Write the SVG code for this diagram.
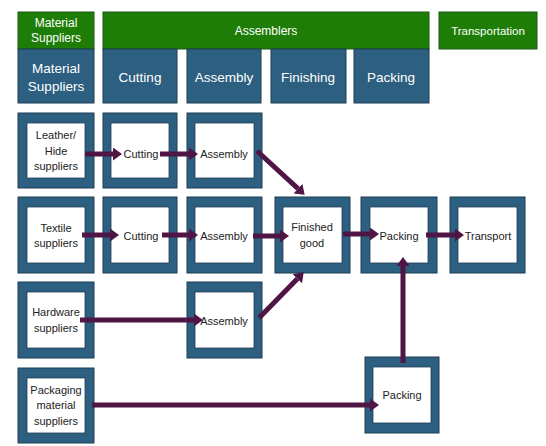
<svg xmlns="http://www.w3.org/2000/svg" width="546" height="446" viewBox="0 0 546 446">
<style>
.g{fill:#1e7d06;stroke:#1b5a12;stroke-width:1}
.b{fill:#2d5f80;stroke:#1f3f55;stroke-width:1}
.w{fill:#ffffff;stroke:#1f3f55;stroke-width:0.8}
.ht{font-family:"Liberation Sans",Arial,sans-serif;fill:#ffffff;text-anchor:middle}
.nt{font-family:"Liberation Sans",Arial,sans-serif;font-size:11px;fill:#222222;text-anchor:middle}
.a{stroke:#4e1545;stroke-width:5;fill:none;marker-end:url(#ah)}
</style>
<defs>
<marker id="ah" markerUnits="userSpaceOnUse" markerWidth="10" markerHeight="13" refX="0" refY="6.5" orient="auto">
<path d="M0,0 L9,6.5 L0,13 Z" fill="#4e1545"/>
</marker>
</defs>
<rect width="546" height="446" fill="#ffffff"/>
<g id="headers">
<rect class="g" x="18" y="12" width="76" height="37"/>
<text class="ht" font-size="12" x="56" y="27">Material</text>
<text class="ht" font-size="12" x="56" y="42">Suppliers</text>
<rect class="g" x="103" y="12" width="326" height="37"/>
<text class="ht" font-size="12" x="266" y="35">Assemblers</text>
<rect class="g" x="439" y="12" width="98" height="37"/>
<text class="ht" font-size="11.5" x="488" y="35">Transportation</text>
<rect class="b" x="18" y="49" width="76" height="54"/>
<text class="ht" font-size="13.5" x="56" y="73">Material</text>
<text class="ht" font-size="13.5" x="56" y="91">Suppliers</text>
<rect class="b" x="103" y="49" width="74" height="54"/>
<text class="ht" font-size="13.5" x="140" y="82">Cutting</text>
<rect class="b" x="187" y="49" width="74" height="54"/>
<text class="ht" font-size="13.5" x="224" y="82">Assembly</text>
<rect class="b" x="271" y="49" width="75" height="54"/>
<text class="ht" font-size="13.5" x="308" y="82">Finishing</text>
<rect class="b" x="354" y="49" width="75" height="54"/>
<text class="ht" font-size="13.5" x="391" y="82">Packing</text>
</g>
<g id="n-leather"><rect class="b" x="18" y="113" width="76" height="75"/><rect class="w" x="27" y="123" width="58" height="55"/>
<text class="nt" x="56" y="139">Leather/</text><text class="nt" x="56" y="155">Hide</text><text class="nt" x="56" y="170">suppliers</text></g>
<g id="n-cut1"><rect class="b" x="103" y="113" width="74" height="75"/><rect class="w" x="111" y="123" width="58" height="55"/>
<text class="nt" x="141" y="158">Cutting</text></g>
<g id="n-asm1"><rect class="b" x="187" y="113" width="75" height="75"/><rect class="w" x="195" y="123" width="59" height="55"/>
<text class="nt" x="224" y="158">Assembly</text></g>
<g id="n-textile"><rect class="b" x="18" y="197" width="76" height="76"/><rect class="w" x="27" y="207" width="58" height="56"/>
<text class="nt" x="56" y="232">Textile</text><text class="nt" x="56" y="247">suppliers</text></g>
<g id="n-cut2"><rect class="b" x="103" y="197" width="74" height="76"/><rect class="w" x="111" y="207" width="58" height="56"/>
<text class="nt" x="141" y="240">Cutting</text></g>
<g id="n-asm2"><rect class="b" x="187" y="197" width="75" height="76"/><rect class="w" x="195" y="207" width="59" height="56"/>
<text class="nt" x="224" y="240">Assembly</text></g>
<g id="n-finished"><rect class="b" x="275" y="197" width="75" height="76"/><rect class="w" x="283" y="207" width="59" height="56"/>
<text class="nt" x="312" y="231">Finished</text><text class="nt" x="312" y="247">good</text></g>
<g id="n-pack1"><rect class="b" x="361" y="197" width="76" height="76"/><rect class="w" x="370" y="207" width="58" height="56"/>
<text class="nt" x="399" y="240">Packing</text></g>
<g id="n-transport"><rect class="b" x="450" y="197" width="75" height="76"/><rect class="w" x="458" y="207" width="59" height="56"/>
<text class="nt" x="488" y="240">Transport</text></g>
<g id="n-hardware"><rect class="b" x="18" y="282" width="76" height="76"/><rect class="w" x="27" y="292" width="58" height="56"/>
<text class="nt" x="56" y="316">Hardware</text><text class="nt" x="56" y="332">suppliers</text></g>
<g id="n-asm3"><rect class="b" x="187" y="282" width="75" height="76"/><rect class="w" x="195" y="292" width="59" height="56"/>
<text class="nt" x="224" y="325">Assembly</text></g>
<g id="n-packaging"><rect class="b" x="18" y="368" width="76" height="75"/><rect class="w" x="27" y="378" width="58" height="55"/>
<text class="nt" x="56" y="394">Packaging</text><text class="nt" x="56" y="409">material</text><text class="nt" x="56" y="425">suppliers</text></g>
<g id="n-pack2"><rect class="b" x="365" y="357" width="74" height="76"/><rect class="w" x="373" y="367" width="58" height="56"/>
<text class="nt" x="402" y="399">Packing</text></g>
<g id="connectors">
<line class="a" x1="85" y1="154" x2="113" y2="154"/>
<line class="a" x1="160" y1="154" x2="189" y2="154"/>
<line class="a" x1="257" y1="151" x2="298" y2="188.6"/>
<line class="a" x1="82" y1="235" x2="110" y2="235"/>
<line class="a" x1="162" y1="235" x2="189" y2="235"/>
<line class="a" x1="253" y1="236" x2="280" y2="236"/>
<line class="a" x1="343" y1="234" x2="370" y2="234"/>
<line class="a" x1="426" y1="235" x2="455" y2="235"/>
<line class="a" x1="80" y1="320" x2="194" y2="320"/>
<line class="a" x1="259" y1="318" x2="297.4" y2="278.7"/>
<line class="a" x1="92" y1="405" x2="370" y2="405"/>
<line class="a" x1="403" y1="363" x2="403" y2="266"/>
</g>
</svg>
